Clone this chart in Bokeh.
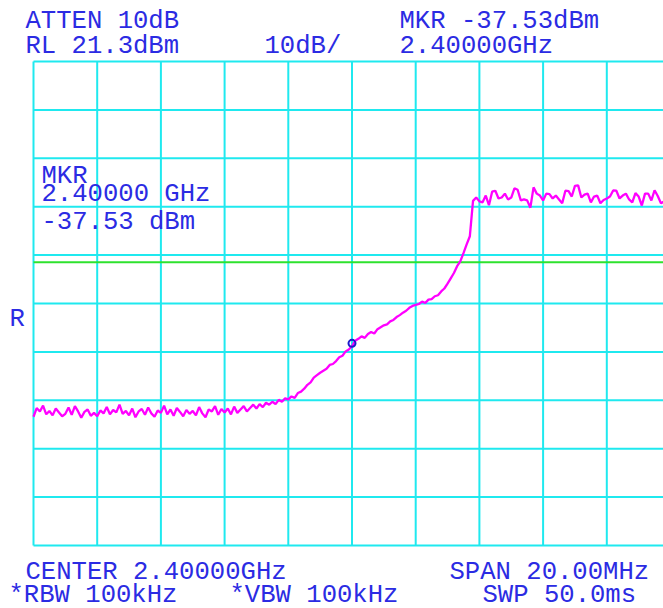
import numpy as np
from bokeh.plotting import figure
from bokeh.models import Range1d, Label
from bokeh.embed import file_html
from bokeh.resources import INLINE

# ---- instrument settings / data ----
center_mhz = 2400.0
span_mhz = 20.0
ref_level_dbm = 21.3
db_per_div = 10.0
n_div = 10
display_line_dbm = -20.2
marker_freq_mhz = 2400.0
marker_level_dbm = -37.53

trace_dbm = [
    -52.1, -50.3, -51.0, -49.8, -51.6, -50.9, -51.8, -50.4, -51.2, -52.0,
    -51.5, -50.2, -51.7, -49.9, -51.0, -52.3, -51.1, -50.6, -51.9, -51.3,
    -52.0, -50.8, -51.4, -50.1, -51.6, -50.7, -51.2, -49.6, -51.5, -50.9,
    -51.8, -50.4, -52.2, -51.0, -50.5, -51.7, -50.2, -51.4, -52.1, -50.8,
    -51.3, -49.8, -51.6, -50.6, -51.9, -50.3, -51.1, -52.0, -50.7, -51.5,
    -50.9, -51.8, -50.1, -51.4, -52.2, -50.6, -51.0, -49.9, -51.7, -50.5,
    -51.2, -50.4, -51.6, -50.0, -51.3, -50.6, -49.9, -51.0, -50.3, -49.6,
    -50.4, -49.5, -50.1, -49.2, -49.6, -49.0, -49.5, -48.6, -49.0, -48.3,
    -48.5, -47.9, -48.2, -47.2, -46.9, -46.3, -45.5, -45.0, -44.0, -43.5,
    -43.0, -42.6, -42.2, -41.4, -41.2, -40.6, -39.8, -39.5, -38.6, -38.2,
    -37.53, -36.4, -36.0, -35.5, -35.8, -35.0, -34.6, -34.9, -34.0, -33.6,
    -33.2, -33.0, -32.4, -32.1, -31.5, -31.1, -30.6, -30.2, -29.6, -29.2,
    -29.0, -28.8, -28.3, -28.6, -27.9, -27.8, -27.2, -27.0, -26.2, -25.6,
    -24.6, -23.5, -22.4, -21.0, -20.0, -18.3, -16.5, -14.8, -7.5, -6.8,
    -7.6, -7.8, -6.4, -8.4, -5.6, -5.4, -7.0, -6.8, -6.0, -7.2,
    -6.8, -4.9, -5.2, -7.4, -7.2, -7.4, -8.9, -4.7, -6.0, -6.4,
    -7.4, -6.0, -6.1, -7.0, -6.4, -7.2, -8.0, -5.4, -5.5, -6.6,
    -4.4, -4.3, -6.8, -6.2, -6.0, -7.8, -6.6, -6.4, -8.0, -7.3,
    -7.0, -6.6, -5.35, -5.4, -7.0, -6.4, -6.0, -7.2, -7.8, -5.9,
    -6.6, -8.45, -6.0, -6.0, -7.4, -5.3, -6.5, -8.0, -7.6, -7.0,
    -7.2,
]

header_left = ["ATTEN 10dB", "RL 21.3dBm"]
header_mid = "10dB/"
header_right = ["MKR -37.53dBm", "2.40000GHz"]
marker_block = ["MKR", "2.40000 GHz", "-37.53 dBm"]
side_label = "R"
footer_top = ["CENTER 2.40000GHz", "SPAN 20.00MHz"]
footer_bottom = ["*RBW 100kHz", "*VBW 100kHz", "SWP 50.0ms"]

# sweep frequencies (evenly spaced sweep points across the span)
f_start = center_mhz - span_mhz / 2
f_stop = center_mhz + span_mhz / 2
freq_mhz = np.linspace(f_start, f_stop, len(trace_dbm))
mhz_per_div = span_mhz / n_div
y_bottom = ref_level_dbm - n_div * db_per_div

# ---- layout constants (the whole canvas is the plot frame) ----
FIG_W, FIG_H = 663, 608
GRID_LEFT, GRID_TOP = 33, 61          # screen px of graticule origin
PX_PER_DIV_X, PX_PER_DIV_Y = 63.7, 48.4
px_per_mhz = PX_PER_DIV_X / mhz_per_div
px_per_db = PX_PER_DIV_Y / db_per_div
TEXT_DY = -6


def sx(px):
    return f_start + (px - GRID_LEFT) / px_per_mhz


def sy(py):
    return ref_level_dbm - (py - GRID_TOP) / px_per_db


CYAN = "#1fe9ef"
BLUE = "#2b2be3"
MAGENTA = "#ff00ff"
GREEN = "#2ee22e"
FONT = "Liberation Mono"
FSIZE = "25.6px"

p = figure(width=FIG_W, height=FIG_H, output_backend="svg", toolbar_location=None,
           x_range=Range1d(sx(0), sx(FIG_W)), y_range=Range1d(sy(FIG_H), sy(0)),
           min_border=0)
p.xaxis.visible = False
p.yaxis.visible = False
p.grid.visible = False
p.outline_line_color = None
p.background_fill_color = "white"
p.border_fill_color = "white"

# graticule
vx = [f_start + k * mhz_per_div for k in range(n_div + 1)]
hy = [ref_level_dbm - k * db_per_div for k in range(n_div + 1)]
p.segment(x0=vx, y0=[y_bottom] * len(vx), x1=vx, y1=[ref_level_dbm] * len(vx),
          line_color=CYAN, line_width=2)
p.segment(x0=[f_start] * len(hy), y0=hy, x1=[f_stop] * len(hy), y1=hy,
          line_color=CYAN, line_width=2)

# display line
p.segment(x0=[f_start], y0=[display_line_dbm], x1=[f_stop], y1=[display_line_dbm],
          line_color=GREEN, line_width=2)

# trace and marker
p.line(freq_mhz, trace_dbm, line_color=MAGENTA, line_width=2.3)
p.scatter([marker_freq_mhz], [marker_level_dbm + 0.6], marker="circle", size=7,
          fill_color=None, line_color="#1a1acc", line_width=2)


def lab(text, px, py):
    p.add_layout(Label(x=sx(px), y=sy(py + TEXT_DY), text=text, text_font=FONT,
                       text_font_size=FSIZE, text_color=BLUE,
                       text_baseline="alphabetic", text_align="left"))


lab(header_left[0], 25, 27)
lab(header_left[1], 25, 52)
lab(header_mid, 264, 52)
lab(header_right[0], 399, 27)
lab(header_right[1], 399, 52)
lab(marker_block[0], 41, 182)
lab(marker_block[1], 41, 200)
lab(marker_block[2], 41, 228)
lab(side_label, 9, 325)
lab(footer_top[0], 25, 578)
lab(footer_top[1], 449, 578)
lab(footer_bottom[0], 8, 601)
lab(footer_bottom[1], 229, 601)
lab(footer_bottom[2], 482, 601)

open("out.html", "w").write(file_html(p, INLINE))
